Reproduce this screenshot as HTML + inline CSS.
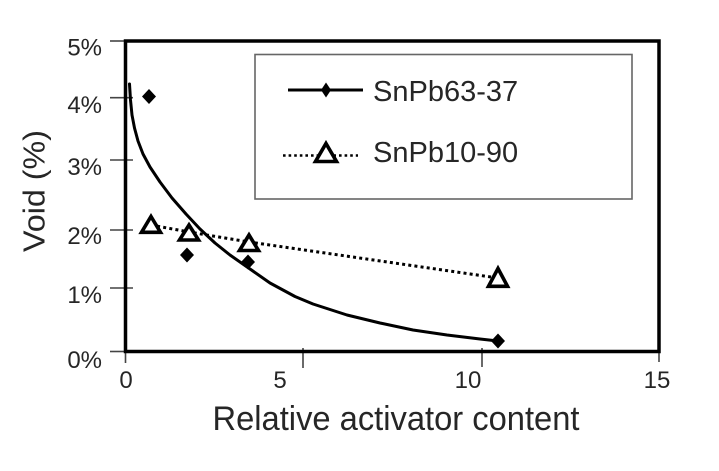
<!DOCTYPE html>
<html>
<head>
<meta charset="utf-8">
<style>
  html,body{margin:0;padding:0;background:#fff;}
  svg{display:block;}
  text{font-family:"Liberation Sans",Arial,sans-serif;fill:#262626;}
</style>
</head>
<body>
<svg width="719" height="471" viewBox="0 0 719 471" xmlns="http://www.w3.org/2000/svg">
  <rect x="0" y="0" width="719" height="471" fill="#fff"/>

  <!-- y ticks -->
  <g stroke="#444" stroke-width="1.6">
    <line x1="110" y1="41" x2="126" y2="41"/>
    <line x1="110" y1="97.7" x2="133" y2="97.7"/>
    <line x1="110" y1="160" x2="133" y2="160"/>
    <line x1="110" y1="230" x2="133" y2="230"/>
    <line x1="110" y1="288" x2="133" y2="288"/>
    <line x1="110" y1="351.5" x2="126" y2="351.5"/>
  </g>
  <!-- x ticks -->
  <g stroke="#444" stroke-width="1.6">
    <line x1="125.5" y1="351" x2="125.5" y2="363"/>
    <line x1="303" y1="348" x2="303" y2="368"/>
    <line x1="482" y1="348" x2="482" y2="367"/>
    <line x1="659" y1="351" x2="659" y2="362"/>
  </g>

  <!-- plot frame -->
  <rect x="125.5" y="41" width="533.5" height="310.5" fill="none" stroke="#000" stroke-width="3.5"/>

  <!-- y tick labels -->
  <g font-size="24" text-anchor="end">
    <text x="102" y="55.5">5%</text>
    <text x="102" y="113">4%</text>
    <text x="102" y="175">3%</text>
    <text x="102" y="244">2%</text>
    <text x="102" y="303">1%</text>
    <text x="102" y="368">0%</text>
  </g>
  <!-- x tick labels -->
  <g font-size="24" text-anchor="middle">
    <text x="126" y="388">0</text>
    <text x="280" y="388">5</text>
    <text x="468" y="388">10</text>
    <text x="657" y="388">15</text>
  </g>

  <!-- axis titles -->
  <text x="212.5" y="430" font-size="34" textLength="367" lengthAdjust="spacingAndGlyphs">Relative activator content</text>
  <text transform="translate(44.5,252) rotate(-90)" x="0" y="0" font-size="31" textLength="122" lengthAdjust="spacingAndGlyphs">Void (%)</text>

  <!-- legend -->
  <rect x="255" y="54.5" width="377" height="144.5" fill="none" stroke="#666" stroke-width="1.6"/>
  <line x1="288" y1="90" x2="363" y2="90" stroke="#000" stroke-width="3"/>
  <polygon points="326,82.5 331,90 326,97.5 321,90" fill="#000"/>
  <text x="373" y="101" font-size="29">SnPb63-37</text>
  <line x1="283" y1="155.5" x2="358" y2="155.5" stroke="#000" stroke-width="2.6" stroke-dasharray="2.6 3"/>
  <polygon points="326,143.5 336.5,161.5 315.5,161.5" fill="#fff" stroke="#000" stroke-width="3.6" stroke-linejoin="miter"/>
  <text x="373" y="162" font-size="29">SnPb10-90</text>

  <!-- SnPb63-37 fit curve -->
  <polyline fill="none" stroke="#000" stroke-width="3" stroke-linejoin="round" stroke-linecap="round"
    points="129.5,84 130.5,100 132,115 134.5,128 138,141 143,154 150,167 160,182 172,198 186,214 200,229 215,243 230,255 250,269 270,283 295,296.5 313,304 347,315 380,323 413,330 447,335 480,339 498,341"/>

  <!-- SnPb10-90 dotted line -->
  <polyline fill="none" stroke="#000" stroke-width="3" stroke-dasharray="3 3.2"
    points="151,225 189,232 249,242 498,278"/>

  <!-- triangles -->
  <g fill="#fff" stroke="#000" stroke-width="3.6" stroke-linejoin="miter">
    <polygon points="151,216.5 160.5,232.3 141.5,232.3"/>
    <polygon points="189,225 198.5,240 179.5,240"/>
    <polygon points="249,235 258.5,250.5 239.5,250.5"/>
    <polygon points="498,268.5 507.5,286.3 488.5,286.3"/>
  </g>

  <!-- diamonds -->
  <g fill="#000">
    <polygon points="149,89 156,96.5 149,104 142,96.5"/>
    <polygon points="187,247.5 194,255 187,262.5 180,255"/>
    <polygon points="248,254.5 255,262 248,269.5 241,262"/>
    <polygon points="498,333.5 505,341 498,348.5 491,341"/>
  </g>
</svg>
</body>
</html>
